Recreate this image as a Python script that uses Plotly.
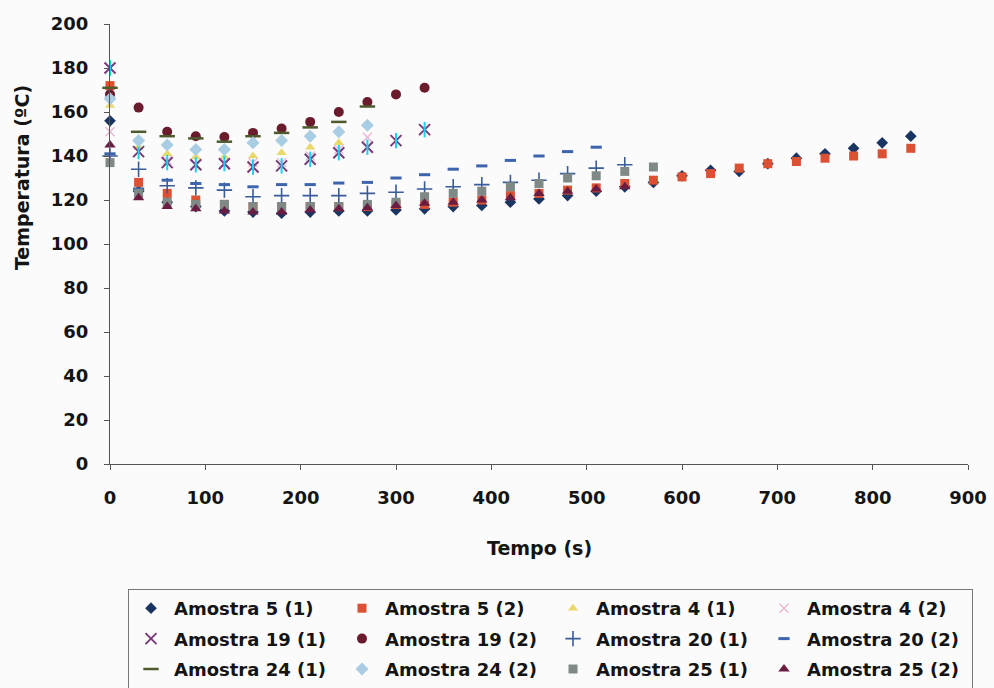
import plotly.graph_objects as go

# Sampling times (s) for each sample series
time_5 = [0, 30, 60, 90, 120, 150, 180, 210, 240, 270, 300, 330, 360, 390, 420,
          450, 480, 510, 540, 570, 600, 630, 660, 690, 720, 750, 780, 810, 840]
time_4_1 = [0, 30, 60, 90, 120, 150, 180, 210, 240]
time_4_2 = [0, 30, 60, 90, 120, 150, 180, 210, 240, 270]
time_19 = [0, 30, 60, 90, 120, 150, 180, 210, 240, 270, 300, 330]
time_20_1 = [0, 30, 60, 90, 120, 150, 180, 210, 240, 270, 300, 330, 360, 390,
             420, 450, 480, 510, 540]
time_20_2 = [0, 30, 60, 90, 120, 150, 180, 210, 240, 270, 300, 330, 360, 390,
             420, 450, 480, 510]
time_24 = [0, 30, 60, 90, 120, 150, 180, 210, 240, 270]
time_25_1 = [0, 30, 60, 90, 120, 150, 180, 210, 240, 270, 300, 330, 360, 390,
             420, 450, 480, 510, 540, 570]
time_25_2 = [0, 30, 60, 90, 120, 150, 180, 210, 240, 270, 300, 330, 360, 390,
             420, 450, 480, 510, 540]

# Temperatures (ºC)
temp_5_1 = [156, 124, 119, 117, 115, 114.5, 114, 114.5, 115, 115, 115.5, 116, 117,
            117.5, 119, 120.5, 122, 124, 126, 128, 131, 133.5, 133, 136.5, 139,
            141, 143.5, 146, 149]
temp_5_2 = [172, 128, 123, 120, 118, 117, 117, 117, 117, 117, 118, 118, 119, 120,
            122, 123, 124.5, 125.5, 127.5, 129, 130.5, 132, 134.5, 136.5, 137.5,
            139, 140, 141, 143.5]
temp_4_1 = [163, 144, 141, 139.5, 139.5, 140, 141.5, 144, 146]
temp_4_2 = [151, 142, 138, 136, 137, 137, 137, 140, 143, 148.5]
temp_19_1 = [180, 142, 137, 136, 136.5, 135, 135.5, 138.5, 141.5, 144, 147, 152]
temp_19_2 = [168, 162, 151, 149, 148.6, 150.5, 152.5, 155.5, 160, 164.5, 168, 171]
temp_20_1 = [140, 134, 126.5, 125.5, 124.5, 121.5, 122, 122, 122, 123, 123.5, 125,
             126, 127, 128, 129, 132, 134.5, 136]
temp_20_2 = [141, 125, 129, 127.5, 127, 126, 127, 127, 127.7, 128, 130, 131.5, 134,
             135.5, 138, 140, 142, 144]
temp_24_1 = [171, 151, 149, 148, 146.5, 149, 150.5, 153, 155.5, 162.5]
temp_24_2 = [166, 147, 145, 143, 143, 146, 147, 149, 151, 154]
temp_25_1 = [137, 123, 119, 118, 118, 117, 117, 117, 117, 118, 119, 121.5, 123, 124,
             126, 127.5, 130, 131, 133, 135]
temp_25_2 = [145, 121, 117, 116, 115, 114.5, 114.5, 115.5, 116, 116.5, 117.5, 118.5,
             119, 120, 121, 123, 124, 125, 126]

x_ticks = [0, 100, 200, 300, 400, 500, 600, 700, 800, 900]
y_ticks = [0, 20, 40, 60, 80, 100, 120, 140, 160, 180, 200]

FONT = "DejaVu Sans, Verdana, sans-serif"
INK = "#141414"

series = [
    ("Amostra 5 (1)", time_5, temp_5_1, dict(symbol="diamond", size=9, color="#1b3563")),
    ("Amostra 5 (2)", time_5, temp_5_2, dict(symbol="square", size=9, color="#dc5033")),
    ("Amostra 4 (1)", time_4_1, temp_4_1, dict(symbol="triangle-up", size=9, color="#e9d86a")),
    ("Amostra 4 (2)", time_4_2, temp_4_2,
     dict(symbol="x-thin-open", size=9, color="#eab4d2", line=dict(width=1.3, color="#eab4d2"))),
    ("Amostra 19 (1)", time_19, temp_19_1,
     dict(symbol="x-thin-open", size=11, color="#7a3b78", line=dict(width=2, color="#7a3b78"))),
    ("Amostra 19 (2)", time_19, temp_19_2, dict(symbol="circle", size=10, color="#6a1b2c")),
    ("Amostra 20 (1)", time_20_1, temp_20_1,
     dict(symbol="cross-thin-open", size=11, color="#3a5c98", line=dict(width=1.6, color="#3a5c98"))),
    ("Amostra 20 (2)", time_20_2, temp_20_2,
     dict(symbol="line-ew-open", size=8, color="#3d64ad", line=dict(width=3, color="#3d64ad"))),
    ("Amostra 24 (1)", time_24, temp_24_1,
     dict(symbol="line-ew-open", size=11, color="#4d5a2e", line=dict(width=2.5, color="#4d5a2e"))),
    ("Amostra 24 (2)", time_24, temp_24_2, dict(symbol="diamond", size=10, color="#a9cde2")),
    ("Amostra 25 (1)", time_25_1, temp_25_1, dict(symbol="square", size=9, color="#7f8a87")),
    ("Amostra 25 (2)", time_25_2, temp_25_2, dict(symbol="triangle-up", size=10, color="#6b1c42")),
]

fig = go.Figure()
for name, xs, ys, marker in series:
    fig.add_trace(go.Scatter(x=xs, y=ys, mode="markers", name=name, marker=marker,
                             cliponaxis=False, legendgroup=name))
    if name == "Amostra 19 (1)":
        # vertical stroke completing the star marker
        fig.add_trace(go.Scatter(x=xs, y=ys, mode="markers", showlegend=False,
                                 legendgroup=name, cliponaxis=False, hoverinfo="skip",
                                 marker=dict(symbol="line-ns-open", size=11,
                                             line=dict(width=2, color=marker["color"]))))

axis_common = dict(
    showgrid=False, zeroline=False, showline=True, linecolor="#555555", linewidth=1,
    ticks="outside", ticklen=5, tickcolor="#555555", mirror=False, automargin=False,
    tickfont=dict(family=FONT, size=18, color=INK, weight="bold"),
)

fig.update_layout(
    width=994, height=688,
    margin=dict(l=110, r=26, t=24, b=224, autoexpand=False),
    paper_bgcolor="#fbfbfb", plot_bgcolor="#fbfbfb",
    font=dict(family=FONT, color=INK),
    xaxis=dict(range=[0, 900], tickvals=x_ticks, ticklabelstandoff=12, **axis_common),
    yaxis=dict(range=[0, 200], tickvals=y_ticks, ticklabelstandoff=12, **axis_common),
    showlegend=True,
    legend=dict(
        orientation="h", xref="container", x=973 / 994, xanchor="right",
        yref="container", y=(688 - 589) / 688, yanchor="top",
        bgcolor="#fbfbfb", bordercolor="#777777", borderwidth=1,
        font=dict(family=FONT, size=18, color=INK, weight="bold"),
        entrywidth=160, entrywidthmode="pixels", itemwidth=36, tracegroupgap=4,
    ),
    annotations=[
        dict(text="Temperatura (ºC)", xref="paper", yref="paper", x=-0.1026, y=0.652,
             textangle=-90, showarrow=False, xanchor="center", yanchor="middle",
             font=dict(family=FONT, size=19, color=INK, weight="bold")),
        dict(text="Tempo (s)", xref="paper", yref="paper", x=0.5, y=-0.191,
             showarrow=False, xanchor="center", yanchor="middle",
             font=dict(family=FONT, size=19, color=INK, weight="bold")),
    ],
)

fig.write_html("out.html")
